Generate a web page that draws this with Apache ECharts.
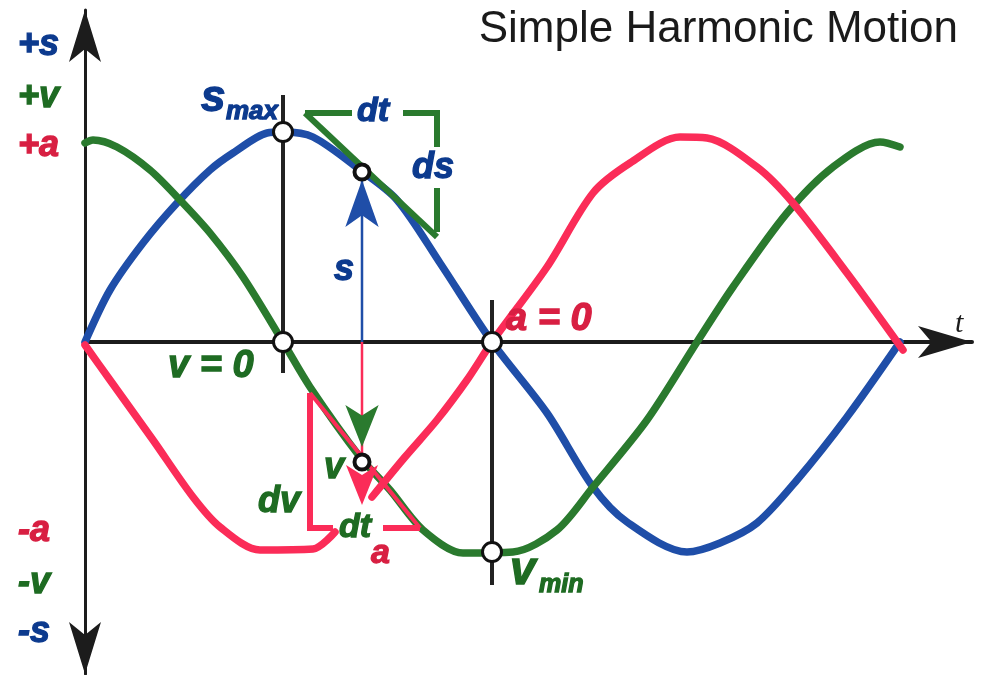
<!DOCTYPE html>
<html lang="en">
<head>
<meta charset="UTF-8">
<title>Simple Harmonic Motion</title>
<style>
    html, body { margin: 0; padding: 0; background: #fff; }
    #main { width: 981px; height: 675px; }
</style>
<script src="https://cdn.jsdelivr.net/npm/echarts@6/dist/echarts.min.js"></script>
</head>
<body>
<div id="main"></div>
<script>
const displacement = [[0,0],[25,52],[58,99],[92,139],[125,172],[148,189],[182,209],[198,210],[228,205],
    [275,172],[312,142],[355,79],[407,0],[462,-71],[508,-145],[542,-180],[602,-210],[635,-201],
    [672,-181],[712,-138],[762,-75],[815,0]];
const velocity = [[0,199],[8,202],[32,195],[65,172],[95,142],[125,109],[158,65],[198,0],[225,-45],
    [275,-115],[305,-148],[338,-188],[378,-211],[428,-210],[472,-188],[508,-145],[562,-78],[612,0],
    [648,55],[702,129],[748,175],[795,200],[815,195]];
const accelLeft = [[0,-3],[25,-38],[68,-98],[108,-155],[135,-185],[175,-208],[228,-207],[250,-190]];
const accelRight = [[287,-155],[320,-115],[352,-78],[382,-38],[407,0],[462,75],[508,149],[545,179],
    [595,205],[622,204],[672,175],[708,139],[762,69],[818,-8]];

// construction lines
const smaxGuide = [[198,247],[198,-31]];
const vminGuide = [[407,42],[407,-243]];
const sArrow = [[277,0],[277,162]];
const aLine = [[277,0],[277,-112]];
const vHead = [[277,-60],[277,-105]];
const aHead = [[277,-130],[277,-163]];
const dsSlope = [[220,229],[352,105]];
const dtTopLeft = [[220,229],[267,229]];
const dtTopRight = [[318,229],[352,229],[352,195]];
const dsRight = [[352,154],[352,110]];
const dvSlope = [[225,-51],[335,-186]];
const dvLeft = [[248,-186],[225,-186],[225,-51]];
const dtRight = [[298,-186],[335,-186]];
const bigPoints = [[198,210],[198,0],[407,0],[407,-210]];
const smallPoints = [[277,170],[277,-120]];

const BLUE = '#1f4ea8', GREEN = '#2a7a2e', RED = '#fb2c58', INK = '#1c1c1c';
const TBLUE = '#0c3a8e', TGREEN = '#1e6b22', TRED = '#d81f42';

function curve(data, color, z) {
    return { type: 'line', data: data, smooth: 0.3, symbol: 'none', z: z,
        lineStyle: { color: color, width: 7.5, cap: 'round', join: 'round' } };
}
function stroke(data, color, width, z) {
    return { type: 'line', data: data, symbol: 'none', z: z,
        lineStyle: { color: color, width: width, join: 'miter' } };
}
function head(data, color, size, rot, z) {
    return { type: 'line', data: data, z: z, showSymbol: true, symbol: 'arrow',
        symbolSize: size, symbolRotate: rot, lineStyle: { width: 0, opacity: 0 },
        itemStyle: { color: color } };
}
function txt(text, x, y, size, color) {
    return { type: 'text', x: x, y: y, z: 50, style: {
        text: text, fill: color, stroke: color, lineWidth: 1.3,
        font: 'italic bold ' + size + 'px "Liberation Sans", Arial, sans-serif',
        textVerticalAlign: 'middle', verticalAlign: 'middle' } };
}

let chartDom = document.getElementById('main');
let myChart = echarts.init(chartDom);
let option = {
    animation: false,
    grid: { left: 85, top: 10, width: 887, height: 664 },
    xAxis: {
        type: 'value', min: 0, max: 887,
        axisLine: { onZero: true, symbol: ['none', 'arrow'], symbolSize: [24, 54],
            lineStyle: { color: INK, width: 4 } },
        axisTick: { show: false }, axisLabel: { show: false }, splitLine: { show: false }
    },
    yAxis: {
        type: 'value', min: -332, max: 332,
        axisLine: { show: true, onZero: true, symbol: ['arrow', 'arrow'], symbolSize: [24, 52],
            lineStyle: { color: INK, width: 3 } },
        axisTick: { show: false }, axisLabel: { show: false }, splitLine: { show: false }
    },
    series: [
        stroke(smaxGuide, '#222', 4, 1),
        stroke(vminGuide, '#222', 4, 1),
        curve(displacement, BLUE, 2),
        curve(velocity, GREEN, 3),
        curve(accelLeft, RED, 4),
        curve(accelRight, RED, 4),
        stroke(dsSlope, GREEN, 6, 5),
        stroke(dtTopLeft, GREEN, 6, 5),
        stroke(dtTopRight, GREEN, 6, 5),
        stroke(dsRight, GREEN, 6, 5),
        stroke(dvSlope, RED, 4, 5),
        stroke(dvLeft, RED, 6, 5),
        stroke(dtRight, RED, 6, 5),
        stroke(sArrow, BLUE, 2.5, 6),
        stroke(aLine, RED, 2.5, 6),
        head([sArrow[1]], BLUE, [25, 47], 0, 7),
        head([vHead[1]], GREEN, [25, 42], 180, 7),
        head([aHead[1]], RED, [24, 40], 180, 7),
        { type: 'scatter', data: bigPoints, symbol: 'circle', symbolSize: 19, z: 10,
          itemStyle: { color: '#fff', borderColor: '#111', borderWidth: 3, opacity: 1 } },
        { type: 'scatter', data: smallPoints, symbol: 'circle', symbolSize: 15, z: 10,
          itemStyle: { color: '#fff', borderColor: '#111', borderWidth: 4, opacity: 1 } }
    ],
    graphic: [
        { type: 'text', right: 23, top: 8, z: 50, style: { text: 'Simple Harmonic Motion', fill: '#1a1a1a',
            font: '44px "Liberation Sans", Arial, sans-serif' } },
        txt('+s', 18, 45, 36, TBLUE),
        txt('+v', 18, 97, 36, TGREEN),
        txt('+a', 18, 146, 36, TRED),
        txt('-a', 18, 531, 36, TRED),
        txt('-v', 18, 583, 36, TGREEN),
        txt('-s', 18, 632, 36, TBLUE),
        txt('s', 201, 99, 44, TBLUE),
        txt('max', 226, 112, 26, TBLUE),
        txt('dt', 357, 112, 34, TBLUE),
        txt('ds', 412, 168, 36, TBLUE),
        txt('s', 334, 270, 36, TBLUE),
        txt('v = 0', 168, 367, 38, TGREEN),
        txt('a = 0', 506, 320, 38, TRED),
        txt('v', 324, 468, 36, TGREEN),
        txt('dv', 258, 502, 36, TGREEN),
        txt('dt', 339, 528, 34, TGREEN),
        txt('a', 371, 554, 34, TRED),
        txt('v', 510, 571, 46, TGREEN),
        txt('min', 539, 585, 25, TGREEN),
        { type: 'text', x: 955, y: 324, z: 50, style: { text: 't', fill: INK,
            font: 'italic 30px "Liberation Serif", serif', textVerticalAlign: 'middle', verticalAlign: 'middle' } }
    ]
};
option && myChart.setOption(option);
</script>
</body>
</html>
